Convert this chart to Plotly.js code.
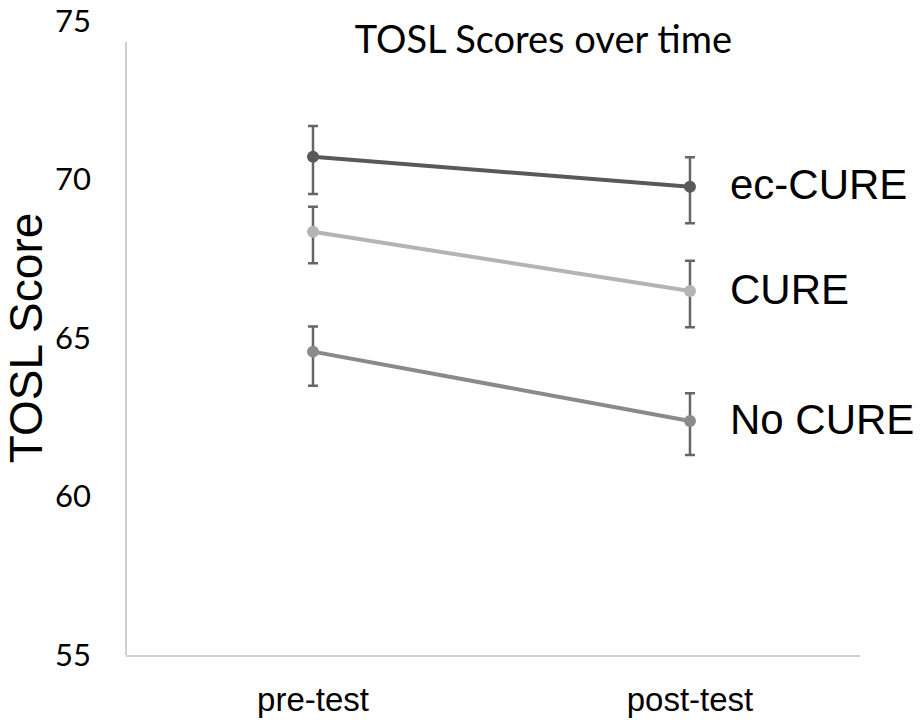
<!DOCTYPE html>
<html>
<head>
<meta charset="utf-8">
<script src="https://cdn.plot.ly/plotly-3.0.1.min.js"></script>
<style>html,body{margin:0;padding:0;background:#fff;}#chart{width:921px;height:724px;}</style>
</head>
<body>
<div id="chart"></div>
<script>
const categories = ["pre-test", "post-test"];
const seriesNames = ["ec-CURE", "CURE", "No CURE"];
const ecCure = [70.72, 69.77];
const ecCureErrPlus = [0.97, 0.93];
const ecCureErrMinus = [1.18, 1.15];
const cure = [68.35, 66.48];
const cureErrPlus = [0.79, 0.96];
const cureErrMinus = [0.99, 1.14];
const noCure = [64.57, 62.38];
const noCureErrPlus = [0.79, 0.88];
const noCureErrMinus = [1.08, 1.07];
const yTicks = [55, 60, 65, 70, 75];

const colors = ["#595959", "#b4b4b4", "#8a8a8a"];
const values = [ecCure, cure, noCure];
const errP = [ecCureErrPlus, cureErrPlus, noCureErrPlus];
const errM = [ecCureErrMinus, cureErrMinus, noCureErrMinus];

const traces = seriesNames.map((n, i) => ({
  type: "scatter",
  mode: "lines+markers",
  name: n,
  x: categories,
  y: values[i],
  line: {color: colors[i], width: 4},
  marker: {color: colors[i], size: 12},
  error_y: {type: "data", symmetric: false, array: errP[i], arrayminus: errM[i],
            color: "#666666", thickness: 2.5, width: 5},
  cliponaxis: false
}));

const annotations = seriesNames.map((n, i) => ({
  x: categories[1], y: values[i][1], xref: "x", yref: "y",
  text: n, showarrow: false, xanchor: "left", yanchor: "middle",
  xshift: 38, yshift: 2,
  font: {family: "Liberation Sans, Arial, sans-serif", size: 42, color: "#000"}
}));

const layout = {
  width: 921, height: 724,
  margin: {l: 126, r: 61, t: 21, b: 69},
  paper_bgcolor: "#fff", plot_bgcolor: "#fff",
  showlegend: false,
  title: {text: "TOSL Scores over time", x: 0.59, xanchor: "center", y: 0.945, yanchor: "middle",
          font: {family: "Lato, Carlito, Calibri, sans-serif", size: 38, color: "#000"}},
  xaxis: {type: "category", range: [-0.496, 1.451], showgrid: false, zeroline: false,
          showline: true, linecolor: "#d0d0d0", linewidth: 2, ticks: "",
          ticklabelstandoff: 14,
          tickfont: {family: "Liberation Sans, Arial, sans-serif", size: 33, color: "#000"}},
  yaxis: {range: [55, 75], tickvals: yTicks, showgrid: false, zeroline: false, showline: false,
          ticks: "", ticklabelstandoff: 34,
          tickfont: {family: "Lato, Carlito, Calibri, sans-serif", size: 31, color: "#000"},
          title: {text: "TOSL Score", standoff: 2,
                  font: {family: "Liberation Sans, Arial, sans-serif", size: 46, color: "#000"}}},
  shapes: [{type: "line", xref: "paper", yref: "y", x0: 0, x1: 0, y0: 55, y1: 74.34,
            line: {color: "#d0d0d0", width: 2}}],
  annotations: annotations
};

Plotly.newPlot("chart", traces, layout, {displayModeBar: false, staticPlot: true});
</script>
</body>
</html>
